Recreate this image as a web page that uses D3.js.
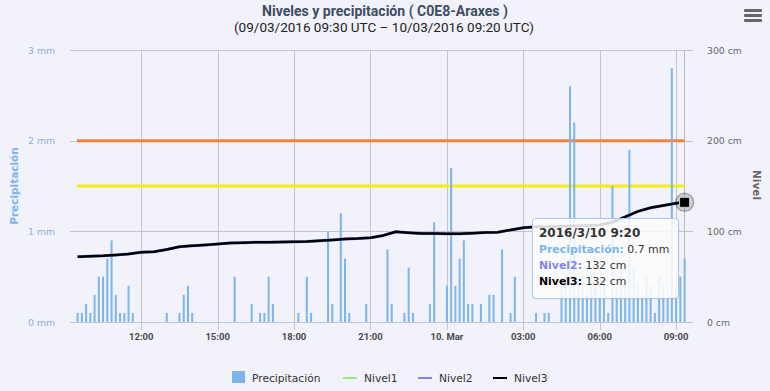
<!DOCTYPE html>
<html>
<head>
  <meta charset="UTF-8">
  <style>
      body{ margin:0; background:#f2f2fa; }
      svg{ display:block; }
      text{ font-family:"DejaVu Sans", sans-serif; }
  </style>
</head>
<body>
<svg></svg>
<script src="https://d3js.org/d3.v7.min.js"></script>
<script>

let width = 770, height = 391;

// precipitation every 10 minutes, first reading 09/03/2016 09:30 UTC (mm)
const precipStart = "2016-03-09 09:30";
const precipStepMin = 10;
const precip = [
  0.1, 0.1, 0.2, 0.1, 0.3, 0.5, 0.5, 0.7, 0.9, 0.3, 0.1, 0.1, 0.4, 0.1,
  0, 0, 0, 0, 0, 0, 0,
  0.1, 0, 0, 0.1, 0.3, 0.4, 0.1,
  0, 0, 0, 0, 0, 0, 0, 0, 0,
  0.5, 0, 0, 0, 0.2, 0, 0.1, 0.1, 0.5, 0.2,
  0, 0, 0, 0, 0,
  0.1, 0, 0.5, 0.1, 0, 0, 0, 1.0, 0.2, 0, 1.2, 0.7, 0.1,
  0, 0, 0, 0.2, 0, 0, 0, 0, 0.8, 0.2, 0, 0, 0.1, 0.6, 0.1,
  0, 0, 0, 0.2, 1.1, 0, 0, 0.4, 1.7, 0.4, 0.7, 0.9, 0.2, 0.2, 0, 0.2, 0,
  0.3, 0.3, 0, 0.8, 0, 0.1, 0.5, 0, 0, 0, 0, 0.1, 0, 0.1, 0.1, 0, 0,
  0.4, 0.5, 2.6, 2.2, 0.5, 0.4, 0.3, 0.6, 0.4, 0.3, 0.5, 0.1, 1.5, 0.4,
  0.6, 0.5, 1.9, 0.6, 0.4, 0.3, 0.5, 0.4, 0.1, 0.5, 0.4, 0.3, 2.8, 0.4,
  0.5, 0.7
];

// level readings (cm)
const levelTimes = [
  "2016-03-09 09:30", "2016-03-09 10:00", "2016-03-09 10:30", "2016-03-09 11:00",
  "2016-03-09 11:30", "2016-03-09 12:00", "2016-03-09 12:30", "2016-03-09 13:00",
  "2016-03-09 13:30", "2016-03-09 14:00", "2016-03-09 14:30", "2016-03-09 15:00",
  "2016-03-09 15:30", "2016-03-09 16:00", "2016-03-09 16:30", "2016-03-09 17:00",
  "2016-03-09 17:30", "2016-03-09 18:00", "2016-03-09 18:30", "2016-03-09 19:00",
  "2016-03-09 19:30", "2016-03-09 20:00", "2016-03-09 20:30", "2016-03-09 21:00",
  "2016-03-09 21:30", "2016-03-09 22:00", "2016-03-09 22:30", "2016-03-09 23:00",
  "2016-03-09 23:30", "2016-03-10 00:00", "2016-03-10 00:30", "2016-03-10 01:00",
  "2016-03-10 01:30", "2016-03-10 02:00", "2016-03-10 02:30", "2016-03-10 03:00",
  "2016-03-10 03:30", "2016-03-10 04:00", "2016-03-10 04:30", "2016-03-10 05:00",
  "2016-03-10 05:30", "2016-03-10 06:00", "2016-03-10 06:30", "2016-03-10 07:00",
  "2016-03-10 07:30", "2016-03-10 08:00", "2016-03-10 08:30", "2016-03-10 09:00",
  "2016-03-10 09:20"
];
const nivel3 = [
  72, 72.5, 73, 74, 75, 77, 77.5, 80, 83, 84, 85, 86,
  87, 87.5, 88, 88, 88.3, 88.5, 88.7, 89.5, 90.5, 91.5, 92, 93,
  95.5, 99.5, 98.5, 97.7, 97.5, 97.2, 97.3, 98, 98.6, 99, 101.5, 104,
  105, 105, 105.5, 106, 106.5, 107, 110, 116, 122, 126, 128.5, 131,
  132
];
// Nivel2 readings coincide with Nivel3, Nivel1 has none
const nivel2 = nivel3;

const plotLines = [200, 150];
const plotLineColors = ["#f5813c", "#f3ee1a"];

const legendNames = ["Precipitación", "Nivel1", "Nivel2", "Nivel3"];
const legendColors = ["#7cb5ec", "#90ed7d", "#8085e9", "#000000"];

let parse = d3.utcParse("%Y-%m-%d %H:%M");
let t0 = parse(precipStart);
let precipData = precip.map((v, i) => ({ t: d3.utcMinute.offset(t0, i * precipStepMin), v: v }));
let lev3 = levelTimes.map((s, i) => ({ t: parse(s), v: nivel3[i] }));
let lev2 = levelTimes.map((s, i) => ({ t: parse(s), v: nivel2[i] }));

let pL = 77.6, pR = 684.6, pT = 50, pB = 322;

let svg = d3.select("svg")
    .attr("width", width)
    .attr("height", height)
    .attr("viewBox", "0 0 " + width + " " + height);

let x = d3.scaleUtc()
    .domain([t0, precipData[precipData.length - 1].t])
    .range([pL, pR]);
let yP = d3.scaleLinear().domain([0, 3]).range([pB, pT]);
let yN = d3.scaleLinear().domain([0, 300]).range([pB, pT]);

// title
svg.append("text")
    .attr("x", 385).attr("y", 16)
    .attr("text-anchor", "middle")
    .attr("textLength", 246).attr("lengthAdjust", "spacingAndGlyphs")
    .style("font-family", "Roboto").style("font-weight", "bold")
    .style("font-size", "14px").style("fill", "#3e4d62")
    .text("Niveles y precipitación ( C0E8-Araxes )");
svg.append("text")
    .attr("x", 384).attr("y", 32)
    .attr("text-anchor", "middle")
    .attr("textLength", 300).attr("lengthAdjust", "spacingAndGlyphs")
    .style("font-family", "Roboto")
    .style("font-size", "13px").style("fill", "#222")
    .text("(09/03/2016 09:30 UTC – 10/03/2016 09:20 UTC)");

// menu icon
svg.append("g").selectAll("rect")
    .data([0, 1, 2])
    .enter().append("rect")
    .attr("x", 744).attr("y", d => 9 + d * 5)
    .attr("width", 18).attr("height", 3).attr("rx", 1)
    .style("fill", "#666");

// grid
let xTicks = x.ticks(d3.utcHour.every(3));
svg.append("g").selectAll("line")
    .data(xTicks)
    .enter().append("line")
    .attr("x1", d => Math.round(x(d)) + 0.5).attr("x2", d => Math.round(x(d)) + 0.5)
    .attr("y1", pT).attr("y2", pB + 8)
    .style("stroke", "#c3c3cb");
svg.append("g").selectAll("line")
    .data([1, 2, 3])
    .enter().append("line")
    .attr("x1", 70).attr("x2", 693)
    .attr("y1", d => Math.round(yP(d)) + 0.5).attr("y2", d => Math.round(yP(d)) + 0.5)
    .style("stroke", "#c3c3cb");
svg.append("line")
    .attr("x1", 70).attr("x2", 693)
    .attr("y1", pB + 0.5).attr("y2", pB + 0.5)
    .style("stroke", "#b8c6d8");
svg.append("line")
    .attr("x1", Math.round(pR) - 0.5).attr("x2", Math.round(pR) - 0.5)
    .attr("y1", pT).attr("y2", pB)
    .style("stroke", "#b8b8c2");

// plot lines
svg.append("g").selectAll("line")
    .data(plotLines)
    .enter().append("line")
    .attr("x1", 77).attr("x2", pR)
    .attr("y1", d => yN(d)).attr("y2", d => yN(d))
    .style("stroke", (d, i) => plotLineColors[i])
    .style("stroke-width", 3);

// columns
svg.append("g").selectAll("rect")
    .data(precipData.filter(d => d.v > 0))
    .enter().append("rect")
    .attr("x", d => x(d.t) - 1)
    .attr("y", d => yP(d.v))
    .attr("width", 2)
    .attr("height", d => pB - yP(d.v))
    .style("fill", "#7cb5ec");

// levels
let line = d3.line().x(d => x(d.t)).y(d => yN(d.v));
svg.append("path").datum(lev2)
    .attr("d", line)
    .attr("fill", "none").attr("stroke", "#8085e9").attr("stroke-width", 3);
svg.append("path").datum(lev3)
    .attr("d", line)
    .attr("fill", "none").attr("stroke", "#000").attr("stroke-width", 2.5)
    .attr("stroke-linejoin", "round");

// axes labels
svg.append("g").selectAll("text")
    .data([0, 1, 2, 3])
    .enter().append("text")
    .attr("x", 55).attr("y", d => yP(d) + 3.5)
    .attr("text-anchor", "end")
    .style("font-size", "9.3px").style("fill", "#8aaed6")
    .text(d => d + " mm");
svg.append("g").selectAll("text")
    .data([0, 100, 200, 300])
    .enter().append("text")
    .attr("x", 707).attr("y", d => yN(d) + 3.5)
    .style("font-size", "9.3px").style("fill", "#666")
    .text(d => d + " cm");
let fmt = d => d.getUTCHours() === 0 ? d3.utcFormat("%-d. %b")(d) : d3.utcFormat("%H:%M")(d);
svg.append("g").selectAll("text")
    .data(xTicks)
    .enter().append("text")
    .attr("x", d => x(d)).attr("y", 340)
    .attr("text-anchor", "middle")
    .style("font-family", "Roboto").style("font-weight", "bold")
    .style("font-size", "9.5px").style("fill", "#4a4a4a")
    .text(fmt);

svg.append("text")
    .attr("transform", "translate(18,186) rotate(-90)")
    .attr("text-anchor", "middle")
    .style("font-size", "10.5px").style("font-weight", "bold").style("fill", "#7cb5ec")
    .text("Precipitación");
svg.append("text")
    .attr("transform", "translate(753,185) rotate(90)")
    .attr("text-anchor", "middle")
    .style("font-size", "10.5px").style("font-weight", "bold").style("fill", "#666")
    .text("Nivel");

// legend
let legendX = [232, 343, 418, 493];
let legend = svg.append("g").selectAll("g")
    .data(legendNames)
    .enter().append("g")
    .attr("transform", (d, i) => "translate(" + legendX[i] + ",0)");
legend.filter((d, i) => i === 0).append("rect")
    .attr("x", 0).attr("y", 371).attr("width", 13).attr("height", 12)
    .style("fill", legendColors[0]);
legend.filter((d, i) => i > 0).append("line")
    .attr("x1", 0).attr("x2", 14).attr("y1", 378).attr("y2", 378)
    .style("stroke", (d) => legendColors[legendNames.indexOf(d)])
    .style("stroke-width", 2);
legend.append("text")
    .attr("x", (d, i) => i === 0 ? 20 : 21).attr("y", 381.5)
    .style("font-size", "10.7px").style("fill", "#333")
    .text(d => d);

// hover marker on last point
let last = lev3[lev3.length - 1];
svg.append("circle")
    .attr("cx", x(last.t)).attr("cy", yN(last.v)).attr("r", 9)
    .style("fill", "rgba(0,0,0,0.14)").style("stroke", "rgba(0,0,0,0.28)").style("stroke-width", 1.5);
svg.append("rect")
    .attr("x", x(last.t) - 5).attr("y", yN(last.v) - 5)
    .attr("width", 10).attr("height", 10)
    .style("fill", "#000").style("stroke", "#ccc").style("stroke-width", 1);

// tooltip
let lastP = precipData[precipData.length - 1];
let tip = svg.append("g").attr("transform", "translate(532,218)");
tip.append("rect")
    .attr("x", 1.5).attr("y", 1.5).attr("width", 146).attr("height", 80).attr("rx", 3)
    .style("fill", "rgba(0,0,0,0.06)");
tip.append("rect")
    .attr("x", 0.5).attr("y", 0.5).attr("width", 146).attr("height", 80).attr("rx", 3)
    .style("fill", "rgba(255,255,255,0.85)").style("stroke", "#a8c6e8").style("stroke-width", 1);
tip.append("text")
    .attr("x", 7).attr("y", 19)
    .style("font-size", "12px").style("font-weight", "bold").style("fill", "#333")
    .text(d3.utcFormat("%Y/%-m/%-d %-H:%M")(last.t));
let rows = [
  ["Precipitación", lastP.v + " mm", legendColors[0]],
  ["Nivel2", last.v + " cm", legendColors[2]],
  ["Nivel3", last.v + " cm", legendColors[3]]
];
rows.forEach((r, i) => {
  let t = tip.append("text").attr("x", 7).attr("y", 35 + i * 16)
      .style("font-size", "10.9px").style("fill", "#333");
  t.append("tspan").style("font-weight", "bold").style("fill", r[2]).text(r[0] + ":");
  t.append("tspan").text(" " + r[1]);
});

</script>
</body>
</html>
